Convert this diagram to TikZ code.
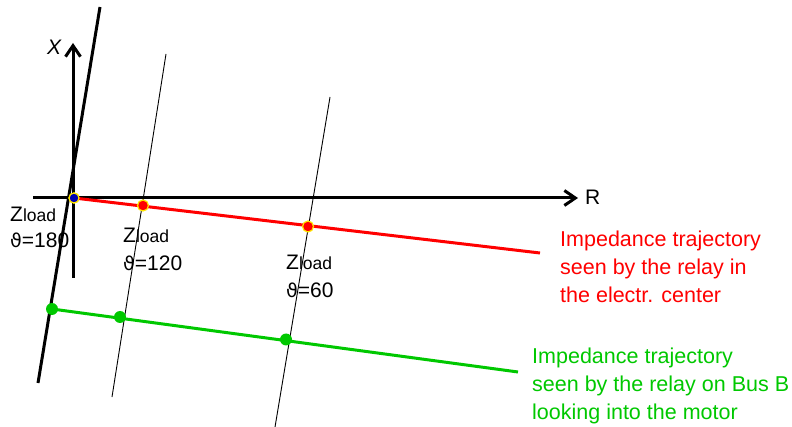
\documentclass[tikz,border=0pt]{standalone}
\usepackage{fontspec}
\setmainfont{Liberation Sans}
\newfontfamily\symfont{DejaVu Sans}
\usetikzlibrary{arrows.meta}
\definecolor{tred}{RGB}{255,0,0}
\definecolor{tgreen}{RGB}{0,200,0}
\definecolor{tyellow}{RGB}{255,230,0}
\newcommand{\thsym}{{\symfont\fontsize{19}{24}\selectfont ϑ}}
\newcommand{\zload}{Z{\fontsize{17.5}{20}\selectfont load}}
\begin{document}
\begin{tikzpicture}[x=1pt,y=-1pt,
  axis/.style={line width=3pt,-{Straight Barb[length=11pt,width=15pt,line width=3pt]}},
  thickl/.style={line width=3pt},
  thinl/.style={line width=0.9pt},
  redl/.style={line width=3pt,draw=tred},
  greenl/.style={line width=3pt,draw=tgreen},
  reddot/.style={circle,fill=tred,draw=tyellow,line width=1.2pt,inner sep=0pt,minimum size=11pt},
  bluedot/.style={circle,fill=blue!70!black,draw=tyellow,line width=1.2pt,inner sep=0pt,minimum size=10pt},
  greendot/.style={circle,fill=tgreen,inner sep=0pt,minimum size=12pt},
  lbl/.style={anchor=base west,inner sep=0pt,font=\fontsize{21}{24}\selectfont},
  note/.style={anchor=north west,inner sep=0pt,align=left,font=\fontsize{21.5}{28}\selectfont},
]
\useasboundingbox (0,0) rectangle (792,427);
% coordinates
\coordinate (xl) at (33,198);
\coordinate (xr) at (578,198);
\coordinate (yb) at (73,278);
\coordinate (yt) at (73,43);
\coordinate (k1) at (100,7);
\coordinate (k2) at (38,383);
\coordinate (t1a) at (166,54);
\coordinate (t1b) at (112,397);
\coordinate (t2a) at (330,97);
\coordinate (t2b) at (275,427);
\coordinate (rend) at (540,253);
\coordinate (gend) at (518,372);
% lines
\draw[thinl] (t1a) -- (t1b);
\draw[thinl] (t2a) -- (t2b);
\draw[axis] (xl) -- (xr);
\draw[axis] (yb) -- (yt);
\draw[thickl] (k1) -- (k2);
\node[bluedot] (o) at (74,198) {};
\draw[redl] (o.center) -- (rend);
\node[greendot] (g0) at (52,309) {};
\draw[greenl] (g0.center) -- (gend);
\node[reddot] (r1) at (143,205.5) {};
\node[reddot] (r2) at (308,226.5) {};
\node[bluedot] at (o) {};
\node[greendot] (g1) at (120,317) {};
\node[greendot] (g2) at (286,339.5) {};
% labels
\node[lbl,font=\fontsize{21}{24}\selectfont\itshape] (xlab) at (47,55) {X};
\node[lbl] (rlab) at (585,205) {R};
\node[lbl] (z1) at (10,222) {\zload};
\node[lbl] (th1) at (10,248) {\thsym=180};
\node[lbl] (z2) at (123,243) {\zload};
\node[lbl] (th2) at (123,271) {\thsym=120};
\node[lbl] (z3) at (286,270) {\zload};
\node[lbl] (th3) at (286,298) {\thsym=60};
\node[note,text=tred] (nred) at (560,231) {Impedance trajectory\\seen by the relay in\\the electr. center};
\node[note,text=tgreen] (ngreen) at (532,348) {Impedance trajectory\\seen by the relay on Bus B\\looking into the motor};
\end{tikzpicture}
\end{document}
